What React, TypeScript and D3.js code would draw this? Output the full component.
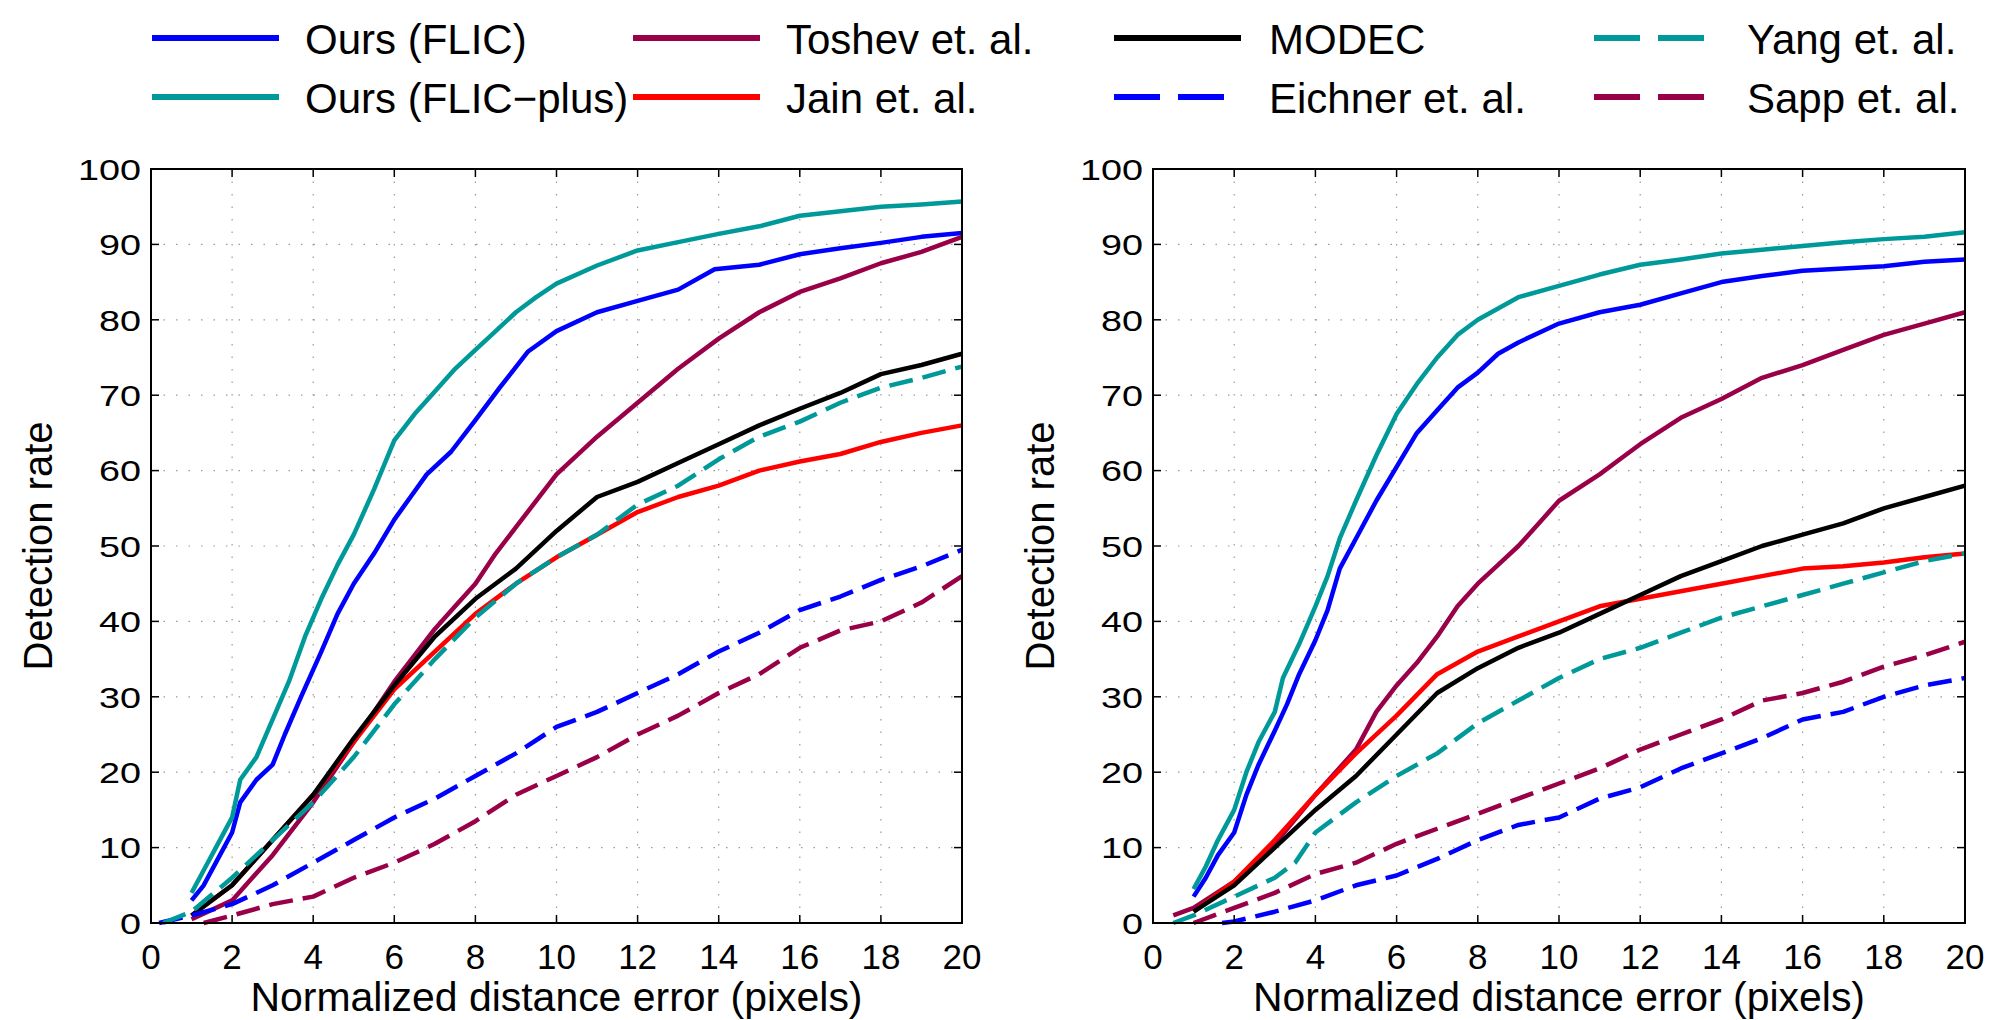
import * as d3 from "d3";

type Pt = [number, number];

const xTicks = [0, 2, 4, 6, 8, 10, 12, 14, 16, 18, 20];
const yTicks = [0, 10, 20, 30, 40, 50, 60, 70, 80, 90, 100];

// left panel
const leftFlic: Pt[] = [[1, 3], [1.3, 5], [1.6, 8], [2, 12], [2.2, 16], [2.6, 19], [3, 21], [3.3, 25], [3.7, 30], [4.2, 36], [4.6, 41], [5, 45], [5.5, 49], [6, 53.5], [6.4, 56.5], [6.8, 59.5], [7.4, 62.5], [8, 66.7], [8.6, 71], [9.3, 75.8], [10, 78.5], [11, 81], [12, 82.5], [13, 84], [13.9, 86.7], [15, 87.3], [16, 88.7], [17, 89.5], [18, 90.2], [19, 91], [20, 91.5]];
const leftFlicPlus: Pt[] = [[1, 4], [1.3, 7], [1.6, 10], [2, 14], [2.2, 19], [2.6, 22], [3, 27], [3.4, 32], [3.8, 38], [4.2, 43], [4.6, 47.5], [5, 51.5], [5.5, 57.5], [6, 64], [6.5, 67.5], [7, 70.5], [7.5, 73.5], [8, 76], [8.5, 78.5], [9, 81], [9.5, 83], [10, 84.8], [11, 87.2], [12, 89.2], [13, 90.3], [14, 91.4], [15, 92.4], [16, 93.8], [17, 94.4], [18, 95], [19, 95.3], [20, 95.7]];
const leftToshev: Pt[] = [[1, 0.5], [2, 3], [3, 9], [4, 16], [5, 24], [6, 32], [7, 39], [7.5, 42], [8, 45], [8.5, 49], [9, 52.5], [10, 59.5], [11, 64.5], [12, 69], [13, 73.5], [14, 77.5], [15, 81], [16, 83.7], [17, 85.5], [18, 87.5], [19, 89], [20, 91]];
const leftJain: Pt[] = [[1, 1], [2, 5], [3, 11], [4, 17], [5, 24], [6, 31], [7, 36], [8, 41], [9, 45], [10, 48.5], [11, 51.5], [12, 54.5], [13, 56.5], [14, 58], [15, 60], [16, 61.2], [17, 62.2], [18, 63.8], [19, 65], [20, 66]];
const leftModec: Pt[] = [[1, 1], [2, 5], [3, 11], [4, 17], [5, 24.5], [6, 31.5], [7, 38], [8, 43], [9, 47], [10, 52], [11, 56.5], [12, 58.5], [13, 61], [14, 63.5], [15, 66], [16, 68.2], [17, 70.3], [18, 72.8], [19, 74], [20, 75.5]];
const leftEichner: Pt[] = [[0.2, 0], [1, 1], [2, 2.5], [3, 5], [4, 8], [5, 11], [6, 14], [7, 16.5], [8, 19.5], [9, 22.5], [10, 26], [11, 28], [12, 30.5], [13, 33], [14, 36], [15, 38.5], [16, 41.5], [17, 43.3], [18, 45.5], [19, 47.3], [20, 49.5]];
const leftYang: Pt[] = [[0.3, 0], [1, 1.5], [2, 6], [3, 11], [4, 16], [5, 22], [6, 29], [7, 35], [8, 40.5], [9, 45], [10, 48.5], [11, 51.5], [12, 55.5], [13, 58], [14, 61.5], [15, 64.5], [16, 66.5], [17, 69], [18, 71], [19, 72.3], [20, 73.8]];
const leftSapp: Pt[] = [[1.3, 0], [2, 1], [3, 2.5], [4, 3.5], [5, 6], [6, 8], [7, 10.5], [8, 13.5], [9, 17], [10, 19.5], [11, 22], [12, 25], [13, 27.5], [14, 30.5], [15, 33], [16, 36.5], [17, 38.8], [18, 40], [19, 42.5], [20, 46]];

// right panel
const rightFlic: Pt[] = [[1, 3.5], [1.3, 6], [1.6, 9], [2, 12], [2.3, 17], [2.6, 21], [3, 25.5], [3.3, 29], [3.6, 33], [4, 37.5], [4.3, 41.5], [4.6, 47], [5, 51], [5.5, 56], [6, 60.5], [6.5, 65], [7, 68], [7.5, 71], [8, 73], [8.5, 75.5], [9, 77], [10, 79.5], [11, 81], [12, 82], [13, 83.5], [14, 85], [15, 85.8], [16, 86.5], [17, 86.8], [18, 87.1], [19, 87.7], [20, 88]];
const rightFlicPlus: Pt[] = [[1, 4.5], [1.3, 7.5], [1.6, 11], [2, 15], [2.3, 20], [2.6, 24], [3, 28], [3.2, 32.5], [3.6, 37], [4, 42], [4.3, 46], [4.6, 51], [5, 56], [5.5, 62], [6, 67.5], [6.5, 71.5], [7, 75], [7.5, 78], [8, 80], [8.5, 81.5], [9, 83], [10, 84.5], [11, 86], [12, 87.3], [13, 88], [14, 88.8], [15, 89.3], [16, 89.8], [17, 90.3], [18, 90.7], [19, 91], [20, 91.6]];
const rightToshev: Pt[] = [[0.5, 1], [1, 2], [2, 5.5], [3, 10.5], [4, 17], [5, 23], [5.5, 28], [6, 31.5], [6.5, 34.5], [7, 38], [7.5, 42], [8, 45], [8.5, 47.5], [9, 50], [9.5, 53], [10, 56], [11, 59.5], [11.5, 61.5], [12, 63.5], [13, 67], [14, 69.5], [15, 72.3], [16, 74], [17, 76], [18, 78], [19, 79.5], [20, 81]];
const rightJain: Pt[] = [[1, 1.5], [2, 5.5], [3, 11], [4, 17], [5, 22.5], [6, 27.5], [7, 33], [8, 36], [9, 38], [10, 40], [11, 42], [12, 43], [13, 44], [14, 45], [15, 46], [16, 47], [17, 47.3], [18, 47.8], [19, 48.5], [20, 49]];
const rightModec: Pt[] = [[1, 1.5], [2, 5], [3, 10], [4, 15], [5, 19.5], [6, 25], [7, 30.5], [8, 33.8], [9, 36.5], [10, 38.5], [11, 41], [12, 43.5], [13, 46], [14, 48], [15, 50], [16, 51.5], [17, 53], [18, 55], [19, 56.5], [20, 58]];
const rightEichner: Pt[] = [[1.7, 0], [2, 0.2], [3, 1.5], [4, 3], [5, 5], [6, 6.3], [7, 8.5], [8, 11], [9, 13], [10, 14], [11, 16.5], [12, 18], [13, 20.5], [14, 22.5], [15, 24.5], [16, 27], [17, 28], [18, 30], [19, 31.5], [20, 32.5]];
const rightYang: Pt[] = [[0.5, 0], [1, 1], [2, 3.5], [3, 6], [3.5, 8], [4, 12], [5, 16], [6, 19.5], [7, 22.5], [8, 26.5], [9, 29.5], [10, 32.5], [11, 35], [12, 36.5], [13, 38.5], [14, 40.5], [15, 42], [16, 43.5], [17, 45], [18, 46.5], [19, 48], [20, 49]];
const rightSapp: Pt[] = [[1, 0], [2, 2], [3, 4], [4, 6.5], [5, 8], [6, 10.5], [7, 12.5], [8, 14.5], [9, 16.5], [10, 18.5], [11, 20.5], [12, 23], [13, 25], [14, 27], [15, 29.5], [16, 30.5], [17, 32], [18, 34], [19, 35.5], [20, 37.3]];

const names = ["Ours (FLIC)", "Ours (FLIC\u2212plus)", "Toshev et. al.", "Jain et. al.", "MODEC", "Eichner et. al.", "Yang et. al.", "Sapp et. al."];
const colors = ["#0000ff", "#009999", "#990047", "#ff0000", "#000000", "#0000ff", "#009999", "#990047"];
const dashed = [false, false, false, false, false, true, true, true];

const leftData = [leftFlic, leftFlicPlus, leftToshev, leftJain, leftModec, leftEichner, leftYang, leftSapp];
const rightData = [rightFlic, rightFlicPlus, rightToshev, rightJain, rightModec, rightEichner, rightYang, rightSapp];

const FONT = "'Liberation Sans', Arial, Helvetica, sans-serif";
const top = 169, bottom = 923;

const Panel = ({ x0, x1, data }: { x0: number; x1: number; data: Pt[][] }) => {
  const xs = d3.scaleLinear().domain([0, 20]).range([x0, x1]);
  const ys = d3.scaleLinear().domain([0, 100]).range([bottom, top]);
  const line = d3.line<Pt>().x(d => xs(d[0])).y(d => ys(d[1]));
  const tick = 8;
  return (
    <g>
      {/* grid */}
      {xTicks.slice(1, -1).map(t => (
        <line key={"gx" + t} x1={xs(t)} x2={xs(t)} y1={top} y2={bottom} stroke="#9a9a9a" strokeWidth={1.2} strokeDasharray="1.5,11" />
      ))}
      {yTicks.slice(1, -1).map(t => (
        <line key={"gy" + t} x1={x0} x2={x1} y1={ys(t)} y2={ys(t)} stroke="#9a9a9a" strokeWidth={1.2} strokeDasharray="1.5,11" />
      ))}
      {/* curves */}
      {data.map((s, i) => (
        <path key={i} d={line(s) || ""} fill="none" stroke={colors[i]} strokeWidth={4.5}
          strokeDasharray={dashed[i] ? "24,10" : undefined} strokeLinejoin="round" />
      ))}
      {/* ticks */}
      {xTicks.map(t => (
        <g key={"tx" + t}>
          <line x1={xs(t)} x2={xs(t)} y1={bottom} y2={bottom - tick} stroke="#000" strokeWidth={1.5} />
          <line x1={xs(t)} x2={xs(t)} y1={top} y2={top + tick} stroke="#000" strokeWidth={1.5} />
          <text x={xs(t)} y={969} textAnchor="middle" fontFamily={FONT} fontSize={35}>{t}</text>
        </g>
      ))}
      {yTicks.map(t => (
        <g key={"ty" + t}>
          <line x1={x0} x2={x0 + tick} y1={ys(t)} y2={ys(t)} stroke="#000" strokeWidth={1.5} />
          <line x1={x1} x2={x1 - tick} y1={ys(t)} y2={ys(t)} stroke="#000" strokeWidth={1.5} />
          <text x={x0 - 10} y={ys(t)} dy="0.36em" textAnchor="end" fontFamily={FONT} fontSize={30}
            textLength={String(t).length * 21} lengthAdjust="spacingAndGlyphs">{t}</text>
        </g>
      ))}
      <rect x={x0} y={top} width={x1 - x0} height={bottom - top} fill="none" stroke="#000" strokeWidth={2} />
      <text x={(x0 + x1) / 2} y={1011} textAnchor="middle" fontFamily={FONT} fontSize={40}
        textLength={612} lengthAdjust="spacingAndGlyphs">Normalized distance error (pixels)</text>
      <text transform={`translate(${x0 - 99},${(top + bottom) / 2}) rotate(-90)`} textAnchor="middle"
        fontFamily={FONT} fontSize={40}>Detection rate</text>
    </g>
  );
};

const legendLineX = [152, 633, 1114, 1594];
const legendTextX = [305, 786, 1269, 1747];
const legendRowY = [38, 97];

const Legend = () => (
  <g>
    {names.map((n, i) => {
      const col = Math.floor(i / 2);
      const row = i % 2;
      const y = legendRowY[row];
      return (
        <g key={n}>
          <line x1={legendLineX[col]} x2={legendLineX[col] + 127} y1={y} y2={y} stroke={colors[i]} strokeWidth={6}
            strokeDasharray={dashed[i] ? "46,18" : undefined} />
          <text x={legendTextX[col]} y={y + 15.5} fontFamily={FONT} fontSize={42}>{n}</text>
        </g>
      );
    })}
  </g>
);

export default function App() {
  return (
    <div style={{ position: "absolute", left: 0, top: 0, background: "#fff" }}>
      <svg width={1991} height={1020} viewBox="0 0 1991 1020" style={{ display: "block" }}>
        <rect width={1991} height={1020} fill="#fff" />
        <Legend />
        <Panel x0={151} x1={962} data={leftData} />
        <Panel x0={1153} x1={1965} data={rightData} />
      </svg>
    </div>
  );
}
